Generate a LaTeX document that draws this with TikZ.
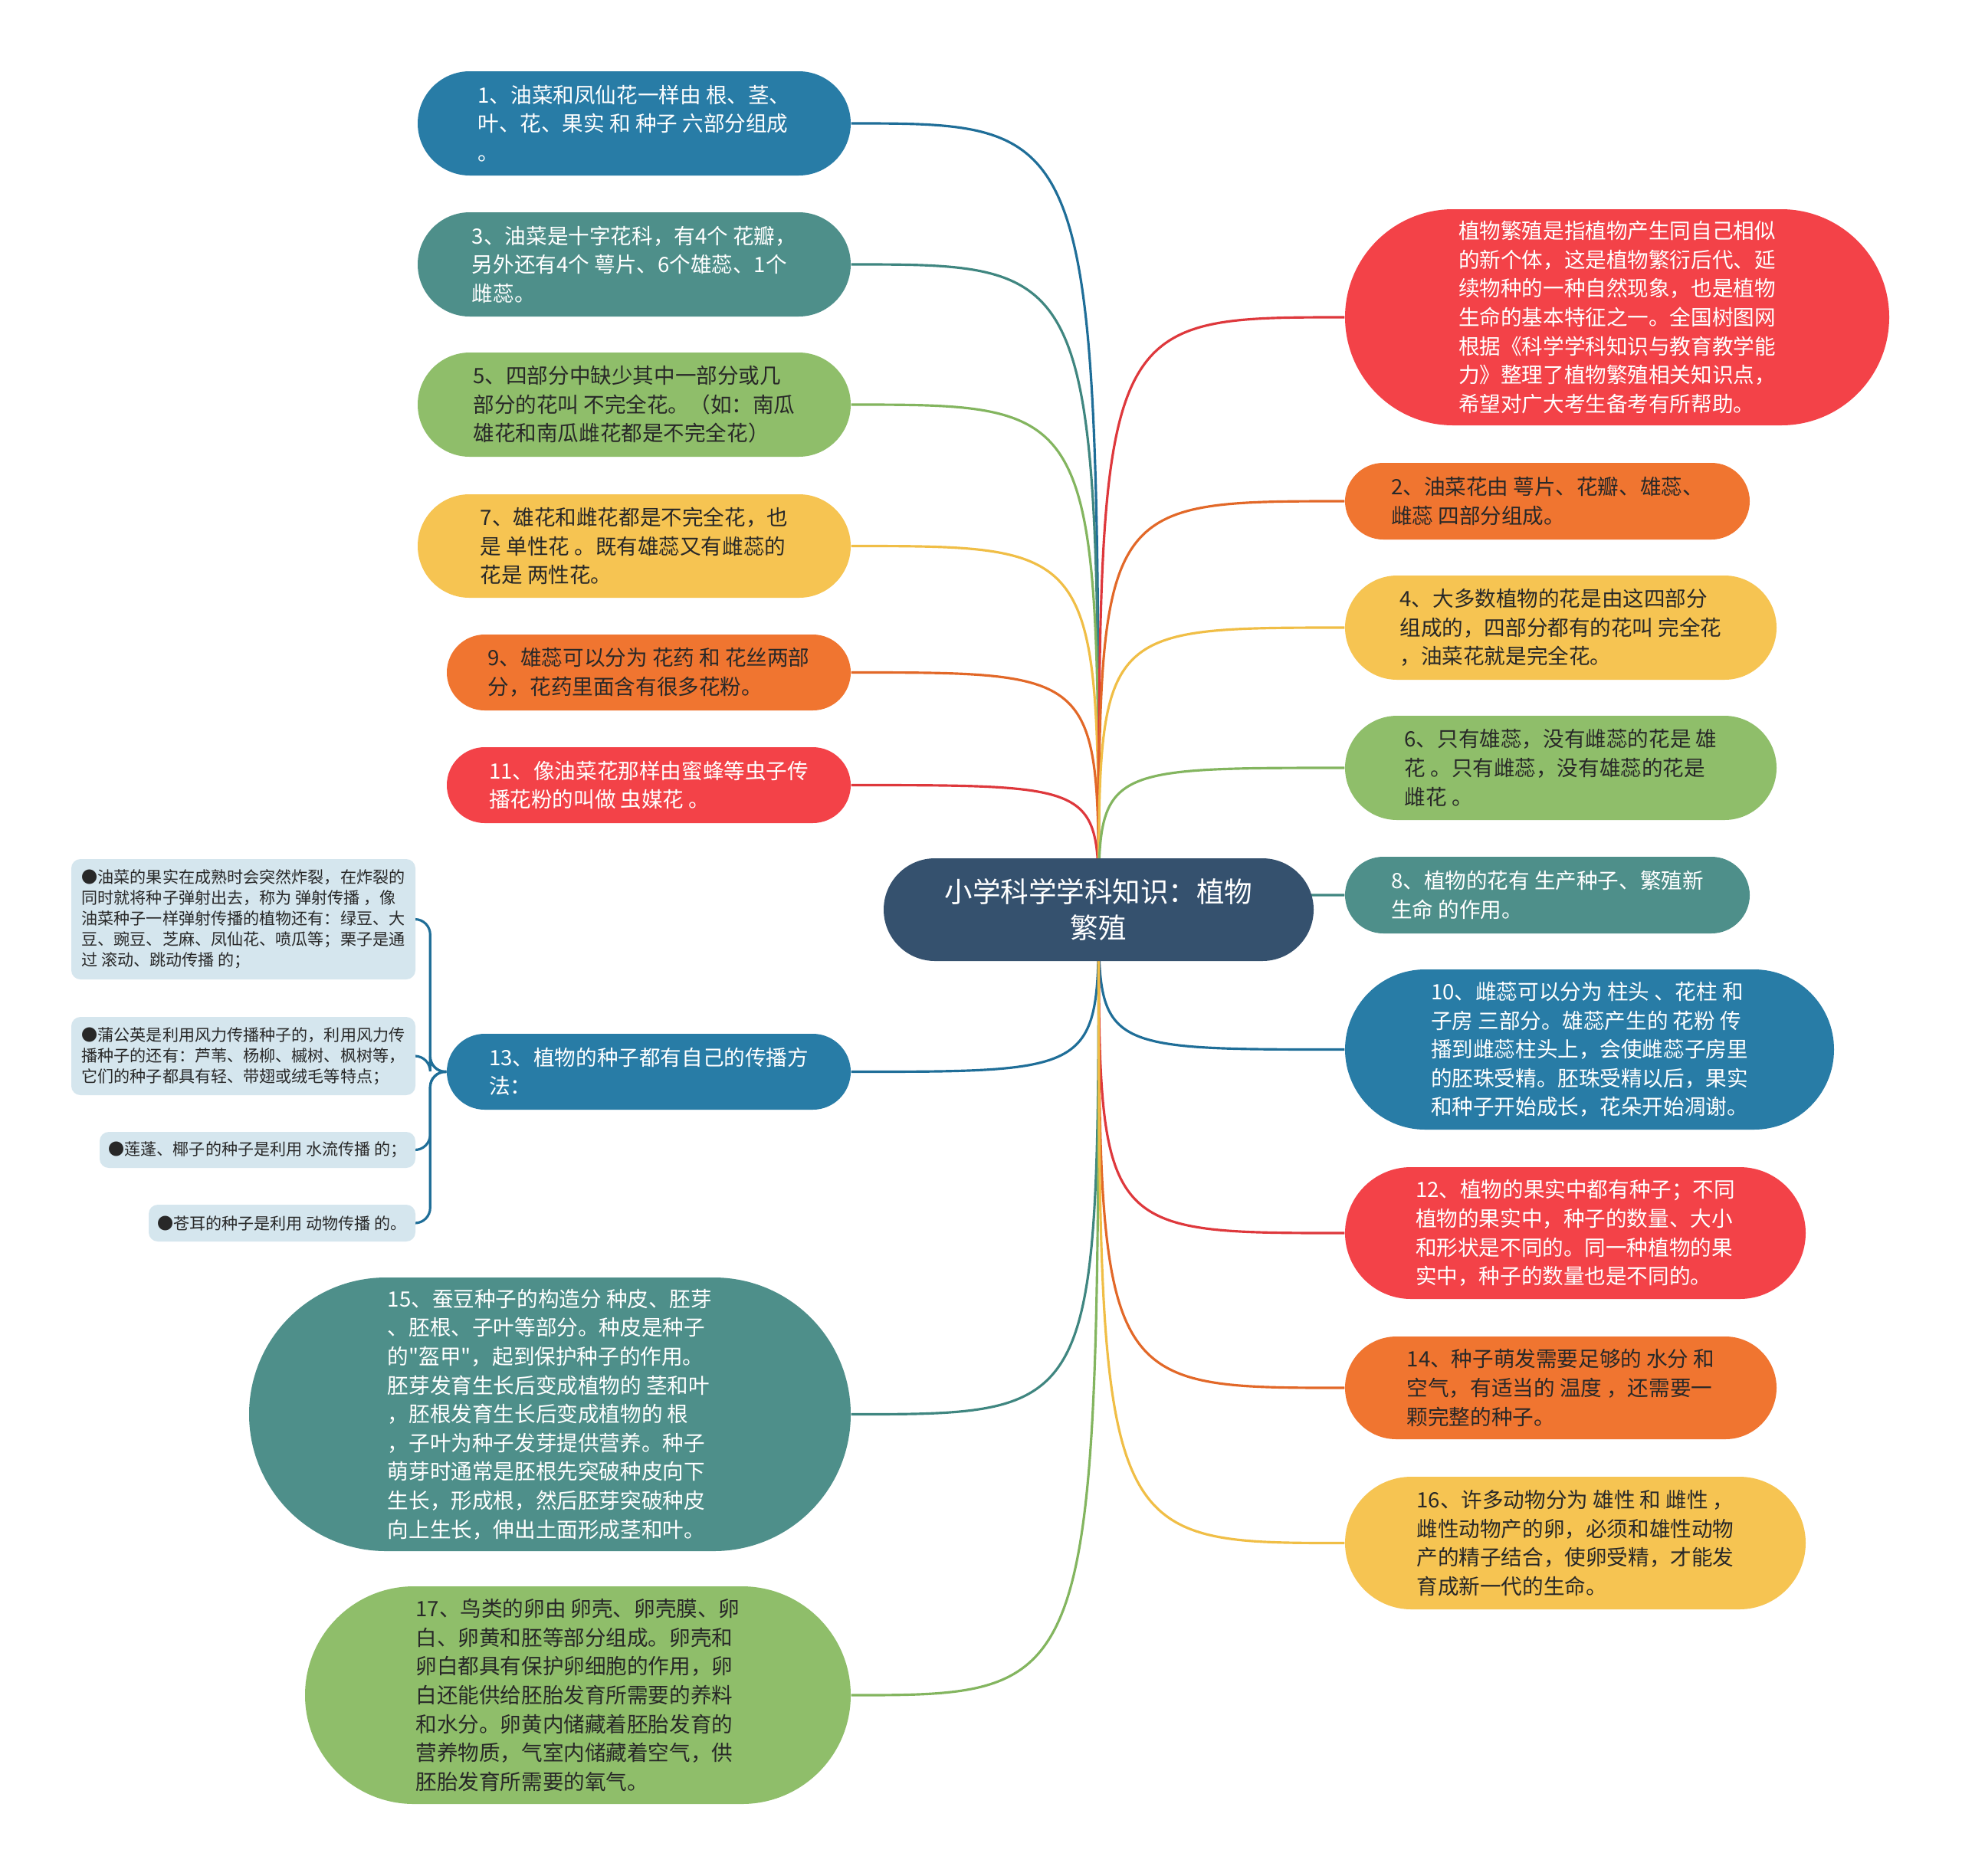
\documentclass[tikz,border=0pt]{standalone}
\usepackage{fontspec}
\setmainfont{Noto Sans CJK SC}[Ligatures=TeXOff]
\usepackage{xcolor}
\definecolor{mapblue}{RGB}{40,124,166}
\definecolor{mapteal}{RGB}{78,143,138}
\definecolor{mapgreen}{RGB}{143,190,106}
\definecolor{mapyellow}{RGB}{246,196,82}
\definecolor{maporange}{RGB}{240,117,48}
\definecolor{mapred}{RGB}{243,66,72}
\definecolor{maproot}{RGB}{53,81,110}
\definecolor{mapsub}{RGB}{213,230,238}
\definecolor{mapdark}{RGB}{40,40,40}
\definecolor{linkblue}{RGB}{31,110,152}
\definecolor{linkteal}{RGB}{63,134,128}
\definecolor{linkgreen}{RGB}{131,181,95}
\definecolor{linkyellow}{RGB}{240,190,70}
\definecolor{linkorange}{RGB}{226,104,40}
\definecolor{linkred}{RGB}{222,56,60}
\usepackage{tikz}
\usetikzlibrary{calc, backgrounds}

\tikzset{
  topic/.style={align=left, inner sep=0pt, font=\fontsize{7.85pt}{10.7pt}\selectfont},
  lighttopic/.style={topic, fill=#1, text=white},
  darktopic/.style={topic, fill=#1, text=mapdark},
  subtopic/.style={align=left, inner sep=0pt, fill=mapsub, text=mapdark,
                   rounded corners=0.12cm, font=\fontsize{6pt}{7.7pt}\selectfont},
  link/.style={line width=0.9pt, draw=#1}
}

\begin{document}
\begin{tikzpicture}
  \useasboundingbox (0,0) rectangle (25.6,-24.47);

  % Root
  \node[fill=maproot, text=white, align=center, inner sep=0pt,
        minimum width=5.61cm, minimum height=1.34cm, rounded corners=0.67cm,
        font=\fontsize{10.4pt}{13.4pt}\selectfont]
        (root) at (14.335,-11.87) {小学科学学科知识：植物\\繁殖};

  % Left branches
  \node[lighttopic=mapblue, minimum width=5.65cm, minimum height=1.36cm, rounded corners=0.68cm]
        (n1) at (8.275,-1.61) {1、油菜和凤仙花一样由 根、茎、\\叶、花、果实 和 种子 六部分组成\\。};
  \node[lighttopic=mapteal, minimum width=5.65cm, minimum height=1.36cm, rounded corners=0.68cm]
        (n3) at (8.275,-3.45) {3、油菜是十字花科，有4个 花瓣，\\另外还有4个 萼片、6个雄蕊、1个\\雌蕊。};
  \node[darktopic=mapgreen, minimum width=5.65cm, minimum height=1.36cm, rounded corners=0.68cm]
        (n5) at (8.275,-5.28) {5、四部分中缺少其中一部分或几\\部分的花叫 不完全花。（如：南瓜\\雄花和南瓜雌花都是不完全花）};
  \node[darktopic=mapyellow, minimum width=5.65cm, minimum height=1.35cm, rounded corners=0.675cm]
        (n7) at (8.275,-7.125) {7、雄花和雌花都是不完全花，也\\是 单性花 。既有雄蕊又有雌蕊的\\花是 两性花。};
  \node[darktopic=maporange, minimum width=5.27cm, minimum height=0.99cm, rounded corners=0.495cm]
        (n9) at (8.465,-8.775) {9、雄蕊可以分为 花药 和 花丝两部\\分，花药里面含有很多花粉。};
  \node[lighttopic=mapred, minimum width=5.27cm, minimum height=0.99cm, rounded corners=0.495cm]
        (n11) at (8.465,-10.245) {11、像油菜花那样由蜜蜂等虫子传\\播花粉的叫做 虫媒花 。};
  \node[lighttopic=mapblue, minimum width=5.27cm, minimum height=0.99cm, rounded corners=0.495cm]
        (n13) at (8.465,-13.985) {13、植物的种子都有自己的传播方\\法：};
  \node[lighttopic=mapteal, minimum width=7.85cm, minimum height=3.57cm, rounded corners=1.785cm]
        (n15) at (7.175,-18.455) {15、蚕豆种子的构造分 种皮、胚芽\\、胚根、子叶等部分。种皮是种子\\的"盔甲"，起到保护种子的作用。\\胚芽发育生长后变成植物的 茎和叶\\，胚根发育生长后变成植物的 根\\，子叶为种子发芽提供营养。种子\\萌芽时通常是胚根先突破种皮向下\\生长，形成根，然后胚芽突破种皮\\向上生长，伸出土面形成茎和叶。};
  \node[darktopic=mapgreen, minimum width=7.12cm, minimum height=2.84cm, rounded corners=1.42cm]
        (n17) at (7.54,-22.12) {17、鸟类的卵由 卵壳、卵壳膜、卵\\白、卵黄和胚等部分组成。卵壳和\\卵白都具有保护卵细胞的作用，卵\\白还能供给胚胎发育所需要的养料\\和水分。卵黄内储藏着胚胎发育的\\营养物质，气室内储藏着空气，供\\胚胎发育所需要的氧气。};

  % Right branches
  \node[lighttopic=mapred, minimum width=7.10cm, minimum height=2.82cm, rounded corners=1.41cm]
        (intro) at (21.10,-4.14) {植物繁殖是指植物产生同自己相似\\的新个体，这是植物繁衍后代、延\\续物种的一种自然现象，也是植物\\生命的基本特征之一。全国树图网\\根据《科学学科知识与教育教学能\\力》整理了植物繁殖相关知识点，\\希望对广大考生备考有所帮助。};
  \node[darktopic=maporange, minimum width=5.28cm, minimum height=1.00cm, rounded corners=0.5cm]
        (n2) at (20.19,-6.54) {2、油菜花由 萼片、花瓣、雄蕊、\\雌蕊 四部分组成。};
  \node[darktopic=mapyellow, minimum width=5.63cm, minimum height=1.36cm, rounded corners=0.68cm]
        (n4) at (20.365,-8.19) {4、大多数植物的花是由这四部分\\组成的，四部分都有的花叫 完全花\\，油菜花就是完全花。};
  \node[darktopic=mapgreen, minimum width=5.63cm, minimum height=1.36cm, rounded corners=0.68cm]
        (n6) at (20.365,-10.02) {6、只有雄蕊，没有雌蕊的花是 雄\\花 。只有雌蕊，没有雄蕊的花是\\雌花 。};
  \node[lighttopic=mapteal, minimum width=5.28cm, minimum height=1.00cm, rounded corners=0.5cm]
        (n8) at (20.19,-11.68) {8、植物的花有 生产种子、繁殖新\\生命 的作用。};
  \node[lighttopic=mapblue, minimum width=6.38cm, minimum height=2.09cm, rounded corners=1.045cm]
        (n10) at (20.74,-13.695) {10、雌蕊可以分为 柱头 、花柱 和\\子房 三部分。雄蕊产生的 花粉 传\\播到雌蕊柱头上，会使雌蕊子房里\\的胚珠受精。胚珠受精以后，果实\\和种子开始成长，花朵开始凋谢。};
  \node[lighttopic=mapred, minimum width=6.01cm, minimum height=1.72cm, rounded corners=0.86cm]
        (n12) at (20.555,-16.09) {12、植物的果实中都有种子；不同\\植物的果实中，种子的数量、大小\\和形状是不同的。同一种植物的果\\实中，种子的数量也是不同的。};
  \node[darktopic=maporange, minimum width=5.63cm, minimum height=1.34cm, rounded corners=0.67cm]
        (n14) at (20.365,-18.11) {14、种子萌发需要足够的 水分 和\\空气，有适当的 温度 ，还需要一\\颗完整的种子。};
  \node[darktopic=mapyellow, minimum width=6.01cm, minimum height=1.73cm, rounded corners=0.865cm]
        (n16) at (20.555,-20.135) {16、许多动物分为 雄性 和 雌性 ，\\雌性动物产的卵，必须和雄性动物\\产的精子结合，使卵受精，才能发\\育成新一代的生命。};

  % Seed dispersal details
  \node[subtopic, minimum width=4.49cm, minimum height=1.57cm]
        (sa) at (3.175,-11.995) {●油菜的果实在成熟时会突然炸裂，在炸裂的\\同时就将种子弹射出去，称为 弹射传播 ，像\\油菜种子一样弹射传播的植物还有：绿豆、大\\豆、豌豆、芝麻、凤仙花、喷瓜等；栗子是通\\过 滚动、跳动传播 的；};
  \node[subtopic, minimum width=4.49cm, minimum height=1.02cm]
        (sb) at (3.175,-13.78) {●蒲公英是利用风力传播种子的，利用风力传\\播种子的还有：芦苇、杨柳、槭树、枫树等，\\它们的种子都具有轻、带翅或绒毛等特点；};
  \node[subtopic, minimum width=4.12cm, minimum height=0.47cm]
        (sc) at (3.36,-15.005) {●莲蓬、椰子的种子是利用 水流传播 的；};
  \node[subtopic, minimum width=3.48cm, minimum height=0.48cm]
        (sd) at (3.68,-15.96) {●苍耳的种子是利用 动物传播 的。};
  \coordinate (fork) at ($(n13.west)+(-0.21,0)$);

  % Connectors
  \begin{scope}[on background layer]
    \fill[white] (0,0) rectangle (25.6,-24.47);
    \foreach \n/\c in {n1/linkblue, n3/linkteal, n5/linkgreen, n7/linkyellow,
                       n9/linkorange, n11/linkred, n13/linkblue, n15/linkteal, n17/linkgreen} {
      \draw[link=\c] (root.center) .. controls (root.center |- \n.east) .. (\n.east);
    }
    \foreach \n/\c in {intro/linkred, n2/linkorange, n4/linkyellow, n6/linkgreen, n8/linkteal,
                       n10/linkblue, n12/linkred, n14/linkorange, n16/linkyellow} {
      \draw[link=\c] (root.center) .. controls (root.center |- \n.west) .. (\n.west);
    }
    \foreach \s in {sa, sb, sc, sd} {
      \draw[link=linkblue, rounded corners=0.2cm] (n13.west) -- (fork) |- (\s.east);
    }
  \end{scope}
\end{tikzpicture}
\end{document}
